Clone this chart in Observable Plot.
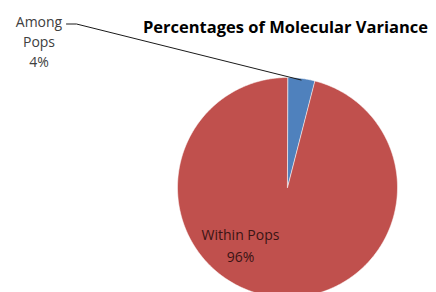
<!DOCTYPE html>
<html>
<head>
<meta charset="utf-8">
<script src="https://cdn.jsdelivr.net/npm/d3@7"></script>
<script src="https://cdn.jsdelivr.net/npm/@observablehq/plot@0.6"></script>
<style>
  html, body { margin: 0; padding: 0; background: #fff; }
  #wrap { position: relative; width: 436px; height: 292px; overflow: hidden; }
  #title { position: absolute; left: 285.5px; top: 19.3px; transform: translateX(-50%); white-space: nowrap;
           line-height: 16.5px; font-family: "Open Sans", sans-serif; font-weight: 700; font-size: 16.5px; color: #000; }
</style>
</head>
<body>
<div id="wrap"><div id="title">Percentages of Molecular Variance</div></div>
<script>
// ---- data ----
const categories = ["Among Pops", "Within Pops"];
const percents = [4, 96];
const labelTexts = ["Among\nPops\n4%", "Within Pops\n96%"];
const sliceColors = ["#4F81BD", "#C0504D"];

// ---- layout (pixel frame: pie centre 287,187, radius 110) ----
const W = 436, H = 292, CX = 287, CY = 187, R = 110;
const xDomain = [(0 - CX) / R, (W - CX) / R];
const yDomain = [(CY - H) / R, (CY - 0) / R];

const pie = d3.pie().sort(null).value(d => d.value).startAngle(0).endAngle(2 * Math.PI);
const arcs = pie(categories.map((c, i) => ({cat: c, value: percents[i]})));

// polygon points of each slice, in unit-radius coordinates (angle 0 = 12 o'clock, clockwise)
const slicePts = [];
arcs.forEach(a => {
  const cat = a.data.cat;
  slicePts.push({cat, x: 0, y: 0});
  const n = Math.max(2, Math.ceil((a.endAngle - a.startAngle) / (Math.PI / 360)));
  for (let k = 0; k <= n; k++) {
    const t = a.startAngle + (a.endAngle - a.startAngle) * k / n;
    slicePts.push({cat, x: Math.sin(t), y: Math.cos(t)});
  }
});

// label anchors (manually placed labels, as in the original)
const labelPos = {
  "Among Pops": {x: (38.5 - CX) / R, y: (CY - 40) / R},
  "Within Pops": {x: (240 - CX) / R, y: (CY - 243.5) / R}
};
const labels = arcs.map((a, i) => ({cat: a.data.cat, text: labelTexts[i], ...labelPos[a.data.cat]}));

// leader line for the small slice
const amongArc = arcs[0];
const mid = (amongArc.startAngle + amongArc.endAngle) / 2;
const leader = [
  {x: (66 - CX) / R, y: (CY - 23.5) / R},
  {x: (76 - CX) / R, y: (CY - 23.5) / R},
  {x: 0.985 * Math.sin(mid), y: 0.985 * Math.cos(mid)}
];

const chart = Plot.plot({
  width: W, height: H,
  margin: 0,
  x: {domain: xDomain, axis: null},
  y: {domain: yDomain, axis: null},
  color: {domain: categories, range: sliceColors},
  style: {background: "transparent", fontFamily: "'Open Sans', sans-serif"},
  marks: [
    Plot.line(slicePts, {x: "x", y: "y", z: "cat", fill: "cat", stroke: "#ffffff", strokeWidth: 0.8,
                         strokeOpacity: 0.7, curve: "linear-closed"}),
    Plot.line(leader, {x: "x", y: "y", stroke: "#1a1a1a", strokeWidth: 1}),
    Plot.text(labels.slice(0, 1), {x: "x", y: "y", text: "text", fill: "#404040", fontSize: 14, lineHeight: 1.42}),
    Plot.text(labels.slice(1), {x: "x", y: "y", text: "text", fill: "#3a1414", fontSize: 14, lineHeight: 1.55})
  ]
});
chart.style.position = "absolute";
chart.style.left = "0";
chart.style.top = "0";
document.getElementById("wrap").prepend(chart);
</script>
</body>
</html>
